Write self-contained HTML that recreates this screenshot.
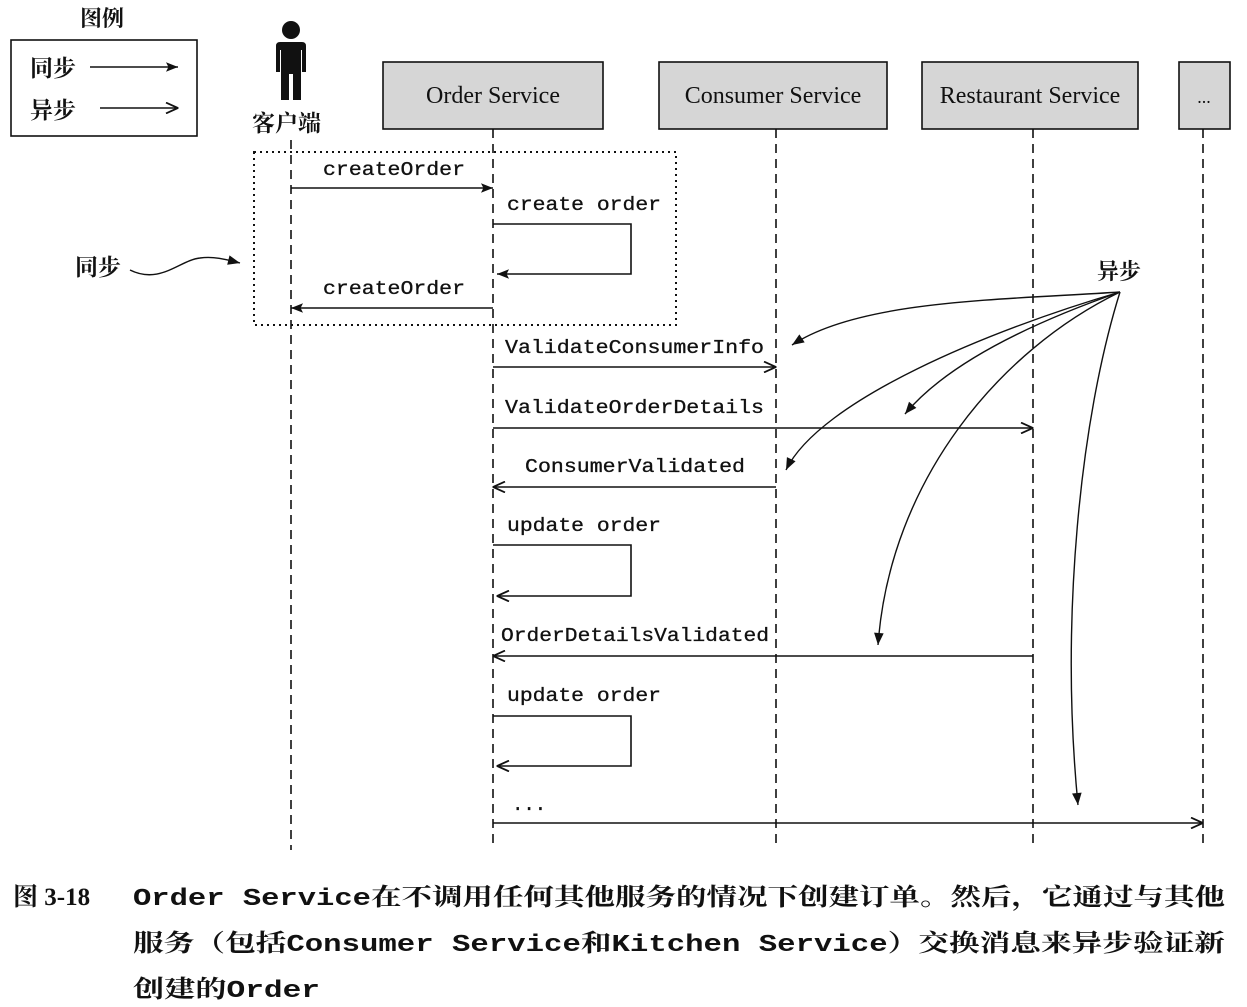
<!DOCTYPE html>
<html><head><meta charset="utf-8"><style>
html,body{margin:0;padding:0;background:#fff;}
svg{display:block;}
.cn{font-family:"Liberation Serif","Noto Serif CJK SC","Noto Sans CJK SC",serif;}
.mono{font-family:"Liberation Mono",monospace;}
.serif{font-family:"Liberation Serif",serif;}
</style></head><body>
<svg width="1247" height="1007" viewBox="0 0 1247 1007" xmlns="http://www.w3.org/2000/svg">
<defs>
<marker id="f" viewBox="0 0 10 10" refX="10" refY="5" markerWidth="14" markerHeight="12" orient="auto" markerUnits="userSpaceOnUse"><path d="M0,1 L10,5 L0,9 L2,5 z" fill="#111"/></marker>
<marker id="o" viewBox="0 0 10 10" refX="10" refY="5" markerWidth="13" markerHeight="12" orient="auto" markerUnits="userSpaceOnUse"><path d="M0,0.5 L10,5 L0,9.5" fill="none" stroke="#111" stroke-width="1.5"/></marker>
<marker id="c" viewBox="0 0 10 10" refX="10" refY="5" markerWidth="13" markerHeight="12" orient="auto" markerUnits="userSpaceOnUse"><path d="M0,1 L10,5 L0,9 z" fill="#111"/></marker>
</defs>
<g stroke="#111" fill="none">
<rect x="11" y="40" width="186" height="96" stroke-width="1.6"/>
<line x1="90" y1="67" x2="178" y2="67" stroke-width="1.6" marker-end="url(#f)"/>
<line x1="100" y1="108" x2="178" y2="108" stroke-width="1.6" marker-end="url(#o)"/>
<rect x="383" y="62" width="220" height="67" fill="#d6d6d6" stroke-width="1.6"/>
<rect x="659" y="62" width="228" height="67" fill="#d6d6d6" stroke-width="1.6"/>
<rect x="922" y="62" width="216" height="67" fill="#d6d6d6" stroke-width="1.6"/>
<rect x="1179" y="62" width="51" height="67" fill="#d6d6d6" stroke-width="1.6"/>
<g stroke-dasharray="9,6" stroke-width="1.6">
<line x1="291" y1="140" x2="291" y2="850"/>
<line x1="493" y1="129" x2="493" y2="845"/>
<line x1="776" y1="129" x2="776" y2="845"/>
<line x1="1033" y1="129" x2="1033" y2="845"/>
<line x1="1203" y1="129" x2="1203" y2="845"/>
</g>
<rect x="254" y="152" width="422" height="173" stroke-dasharray="2,4" stroke-width="2"/>
<g stroke-width="1.6">
<line x1="291" y1="188" x2="493" y2="188" marker-end="url(#f)"/>
<polyline points="493,224 631,224 631,274 497,274" marker-end="url(#f)"/>
<line x1="493" y1="308" x2="291" y2="308" marker-end="url(#f)"/>
</g>
<g stroke-width="1.6">
<line x1="493" y1="367" x2="776" y2="367" marker-end="url(#o)"/>
<line x1="493" y1="428" x2="1033" y2="428" marker-end="url(#o)"/>
<line x1="776" y1="487" x2="493" y2="487" marker-end="url(#o)"/>
<polyline points="493,545 631,545 631,596 497,596" marker-end="url(#o)"/>
<line x1="1033" y1="656" x2="493" y2="656" marker-end="url(#o)"/>
<polyline points="493,716 631,716 631,766 497,766" marker-end="url(#o)"/>
<line x1="493" y1="823" x2="1203" y2="823" marker-end="url(#o)"/>
</g>
<g stroke-width="1.4">
<path d="M130,270 C160,285 180,260 200,258 C215,256 228,260 240,263" marker-end="url(#c)"/>
<path d="M1120,292 C1000,300 860,300 792,345" marker-end="url(#c)"/>
<path d="M1120,292 C1040,320 950,360 905,414" marker-end="url(#c)"/>
<path d="M1120,292 C990,330 820,400 786,470" marker-end="url(#c)"/>
<path d="M1120,292 C1000,350 890,480 878,645" marker-end="url(#c)"/>
<path d="M1120,292 C1080,420 1060,620 1078,805" marker-end="url(#c)"/>
</g>
</g>
<g fill="#111">
<circle cx="291" cy="30" r="9"/>
<path d="M280,42 L302,42 Q306,42 306,46 L306,72 L302,72 L302,50 L301,50 L301,100 L293,100 L293,74 L289,74 L289,100 L281,100 L281,50 L280,50 L280,72 L276,72 L276,46 Q276,42 280,42 z"/>
</g>
<g fill="#111">
<text x="80" y="26" class="cn" font-size="22" font-weight="bold">图例</text>
<text x="30" y="76" class="cn" font-size="23" font-weight="bold">同步</text>
<text x="30" y="118" class="cn" font-size="23" font-weight="bold">异步</text>
<text x="252" y="131" class="cn" font-size="23" font-weight="bold">客户端</text>
<text x="75" y="275" class="cn" font-size="23" font-weight="bold">同步</text>
<text x="1097" y="279" class="cn" font-size="22" font-weight="bold">异步</text>
<text x="493" y="103" class="serif" font-size="24" text-anchor="middle">Order Service</text>
<text x="773" y="103" class="serif" font-size="24" text-anchor="middle">Consumer Service</text>
<text x="1030" y="103" class="serif" font-size="24" text-anchor="middle">Restaurant Service</text>
<text x="1204" y="103" class="serif" font-size="18" text-anchor="middle">...</text>
<g class="mono" font-size="19" stroke="#111" stroke-width="0.3">
<text x="323" y="175" textLength="142" lengthAdjust="spacingAndGlyphs">createOrder</text>
<text x="507" y="210" textLength="154" lengthAdjust="spacingAndGlyphs">create order</text>
<text x="323" y="294" textLength="142" lengthAdjust="spacingAndGlyphs">createOrder</text>
<text x="505" y="353" textLength="259" lengthAdjust="spacingAndGlyphs">ValidateConsumerInfo</text>
<text x="505" y="413" textLength="259" lengthAdjust="spacingAndGlyphs">ValidateOrderDetails</text>
<text x="525" y="472" textLength="220" lengthAdjust="spacingAndGlyphs">ConsumerValidated</text>
<text x="507" y="531" textLength="154" lengthAdjust="spacingAndGlyphs">update order</text>
<text x="501" y="641" textLength="268" lengthAdjust="spacingAndGlyphs">OrderDetailsValidated</text>
<text x="507" y="701" textLength="154" lengthAdjust="spacingAndGlyphs">update order</text>
<text x="512" y="810">...</text>
</g>
<text x="13" y="905" font-size="25" font-family="Liberation Serif,Noto Serif CJK SC,serif" font-weight="bold">图 3-18</text>
<text x="133" y="905" font-size="24" font-family="Liberation Mono,Noto Serif CJK SC,monospace" font-weight="bold" textLength="1092" lengthAdjust="spacingAndGlyphs">Order Service在不调用任何其他服务的情况下创建订单。然后，它通过与其他</text>
<text x="133" y="951" font-size="24" font-family="Liberation Mono,Noto Serif CJK SC,monospace" font-weight="bold" textLength="1092" lengthAdjust="spacingAndGlyphs">服务（包括Consumer Service和Kitchen Service）交换消息来异步验证新</text>
<text x="133" y="997" font-size="24" font-family="Liberation Mono,Noto Serif CJK SC,monospace" font-weight="bold" textLength="187" lengthAdjust="spacingAndGlyphs">创建的Order</text>
</g>
</svg>
</body></html>
